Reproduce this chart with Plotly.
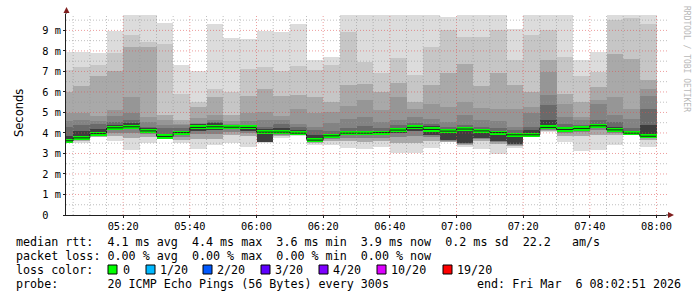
import plotly.graph_objects as go
from datetime import datetime, timedelta

# ---------------- data ----------------
first_interval_start = "2026-03-06 05:00:00"
step_minutes = 5
axis_start = "2026-03-06 05:02:51"
axis_end = "2026-03-06 08:02:51"

median_ms = [3.62, 3.76, 3.97, 4.25, 4.30, 4.10, 3.83, 4.02, 4.27, 4.30, 4.28, 4.27,
             4.04, 4.04, 3.99, 3.65, 3.86, 3.99, 3.99, 4.02, 4.14, 4.27, 4.17, 4.09,
             4.19, 4.10, 4.02, 3.91, 3.91, 4.27, 4.17, 4.22, 4.35, 4.15, 3.99, 3.84]
hi_1 = [7.95, 7.95, 7.90, 8.97, 9.75, 9.75, 9.36, 7.33, 7.00, 9.30, 8.63, 8.56,
        8.97, 8.90, 9.30, 7.54, 7.70, 9.75, 9.75, 9.75, 9.75, 9.75, 9.75, 9.65,
        9.75, 9.75, 9.75, 9.07, 9.75, 9.75, 9.75, 7.54, 7.95, 9.75, 9.75, 9.75]
hi_2 = [7.05, 7.22, 7.30, 7.90, 8.76, 8.43, 8.35, 5.92, 5.51, 6.14, 6.00, 7.14,
        7.22, 7.00, 7.25, 7.06, 7.33, 8.90, 7.46, 6.90, 7.65, 6.82, 8.19, 9.00,
        8.70, 8.68, 9.00, 7.54, 8.76, 9.00, 7.70, 6.78, 6.98, 9.50, 9.62, 9.33]
hi_3 = [6.00, 6.28, 6.78, 7.00, 8.19, 8.19, 4.86, 4.62, 5.27, 5.73, 4.86, 5.80,
        6.14, 5.80, 5.85, 5.76, 5.51, 6.36, 6.40, 6.00, 6.43, 5.51, 6.33, 6.93,
        7.38, 6.28, 6.90, 6.33, 6.00, 7.54, 5.92, 5.50, 6.25, 7.87, 7.62, 6.57]
hi_4 = [4.95, 4.98, 4.82, 5.14, 5.76, 4.80, 4.62, 4.45, 4.75, 4.86, 4.60, 4.95,
        5.03, 4.82, 5.19, 4.95, 5.03, 5.30, 5.60, 5.11, 5.76, 5.19, 5.43, 5.27,
        5.51, 5.20, 5.19, 5.19, 5.27, 6.98, 5.43, 4.80, 5.60, 5.76, 5.19, 6.12]
hi_5 = [4.60, 4.62, 4.60, 4.82, 4.95, 4.54, 4.38, 4.38, 4.50, 4.65, 4.46, 4.60,
        4.62, 4.62, 4.46, 4.30, 4.50, 4.70, 4.78, 4.54, 4.62, 4.78, 4.70, 4.54,
        4.86, 4.62, 4.60, 4.30, 4.95, 5.85, 4.78, 4.62, 5.43, 4.90, 4.70, 5.80]
hi_6 = [4.30, 4.38, 4.43, 4.54, 4.62, 4.30, 4.22, 4.25, 4.45, 4.55, 4.38, 4.38,
        4.30, 4.45, 4.30, 4.14, 4.10, 4.22, 4.35, 4.22, 4.38, 4.50, 4.46, 4.30,
        4.38, 4.30, 4.22, 4.14, 4.30, 5.35, 4.46, 4.38, 4.62, 4.54, 4.22, 5.19]
hi_dark = [3.85, 4.10, 4.20, 4.40, 4.48, 4.22, 3.95, 4.12, 4.42, 4.48, 4.33, 4.33,
           4.20, 4.25, 4.15, 3.90, 3.95, 4.08, 4.12, 4.12, 4.22, 4.38, 4.33, 4.20,
           4.30, 4.20, 4.10, 4.00, 4.15, 4.62, 4.28, 4.30, 4.45, 4.30, 4.10, 4.40]
lo_1 = [3.55, 3.50, 3.78, 3.62, 3.16, 3.49, 3.78, 3.49, 3.20, 3.40, 3.49, 3.30,
        3.49, 3.75, 3.84, 3.40, 3.40, 3.25, 3.20, 3.33, 3.00, 3.00, 3.26, 3.55,
        3.33, 3.20, 2.97, 3.26, 3.78, 4.05, 3.57, 3.13, 3.16, 3.41, 3.89, 3.33]
lo_2 = [3.57, 3.60, 3.82, 3.85, 3.75, 3.80, 3.80, 3.65, 3.70, 3.70, 3.90, 3.85,
        3.55, 3.85, 3.88, 3.50, 3.60, 3.60, 3.55, 3.60, 3.50, 3.50, 3.60, 3.58,
        3.40, 3.60, 3.45, 3.35, 3.82, 4.10, 3.85, 3.85, 3.90, 3.90, 3.92, 3.65]
lo_3 = [3.59, 3.66, 3.86, 4.00, 4.00, 3.95, 3.80, 3.80, 3.95, 3.95, 4.05, 4.00,
        3.57, 3.92, 3.92, 3.55, 3.70, 3.75, 3.75, 3.75, 3.80, 3.85, 3.80, 3.62,
        3.45, 3.70, 3.55, 3.42, 3.86, 4.15, 4.00, 4.05, 4.15, 4.00, 3.94, 3.75]
lo_dark = [3.60, 3.70, 3.90, 4.15, 4.18, 4.02, 3.81, 3.90, 4.10, 4.15, 4.18, 4.10,
           3.58, 3.97, 3.95, 3.56, 3.80, 3.90, 3.90, 3.90, 4.00, 4.10, 3.89, 3.65,
           3.50, 3.75, 3.60, 3.45, 3.88, 4.20, 4.10, 4.15, 4.25, 4.08, 3.96, 3.80]

y_tick_values = [0, 1, 2, 3, 4, 5, 6, 7, 8, 9]
y_tick_labels = ["0\u00a0\u00a0", "1 m", "2 m", "3 m", "4 m", "5 m", "6 m", "7 m", "8 m", "9 m"]

stats_line = "median rtt:  4.1 ms avg  4.4 ms max  3.6 ms min  3.9 ms now  0.2 ms sd  22.2   am/s"
loss_line = "packet loss: 0.00 % avg  0.00 % max  0.00 % min  0.00 % now"
probe_line = "probe:       20 ICMP Echo Pings (56 Bytes) every 300s"
end_line = "end: Fri Mar  6 08:02:51 2026"
loss_labels = ["0", "1/20", "2/20", "3/20", "4/20", "10/20", "19/20"]
loss_colors = ["#00ff00", "#00b8ff", "#0059ff", "#5e00ff", "#7e00ff", "#dd00ff", "#ff0000"]

# ---------------- geometry ----------------
W, H = 697, 297
L, R, T, B = 66, 31, 14, 82
PW, PH = W - L - R, H - T - B
Y_MAX = 9.8
MONO = "DejaVu Sans Mono"


def px(x):
    return (x - L) / PW


def py(y):
    return (H - B - y) / PH


def nb(s):
    return s.replace(" ", "\u00a0")


t0 = datetime.strptime(first_interval_start, "%Y-%m-%d %H:%M:%S")
step = timedelta(minutes=step_minutes)
n = len(median_ms)
starts = [t0 + i * step for i in range(n)]
centers = [s + step / 2 for s in starts]
width_ms = step_minutes * 60 * 1000

fig = go.Figure()

layers = [
    (lo_1, hi_1, "#dcdcdc"),
    (lo_2, hi_2, "#c6c6c6"),
    (lo_2, hi_3, "#a9a9a9"),
    (lo_3, hi_4, "#969696"),
    (lo_3, hi_5, "#838383"),
    (lo_dark, hi_6, "#6a6a6a"),
    (lo_dark, hi_dark, "#3e3e3e"),
]
for lo, hi, col in layers:
    fig.add_trace(go.Bar(
        x=centers, base=lo, y=[h - l for h, l in zip(hi, lo)],
        width=[width_ms] * n, marker=dict(color=col, line=dict(width=0)),
        showlegend=False, hoverinfo="skip"))

# median step line (dark) and green loss band
fig.add_trace(go.Scatter(
    x=starts + [starts[-1] + step], y=median_ms + [median_ms[-1]],
    mode="lines", line=dict(color="#202020", width=1, shape="hv"),
    showlegend=False, hoverinfo="skip"))
band = 0.2
fig.add_trace(go.Bar(
    x=centers, base=[m - band / 2 for m in median_ms], y=[band] * n,
    width=[width_ms] * n, marker=dict(color=loss_colors[0], line=dict(width=0)),
    showlegend=False, hoverinfo="skip"))

# ---------------- grid drawn above the smoke ----------------
shapes = []
minor_col = "rgba(150,150,150,0.6)"
major_col = "rgba(222,79,79,0.55)"
t_axis0 = datetime.strptime(axis_start, "%Y-%m-%d %H:%M:%S")
t_axis1 = datetime.strptime(axis_end, "%Y-%m-%d %H:%M:%S")
g = t0 + step
while g < t_axis1:
    if g > t_axis0:
        major = (g.minute % 20 == 0)
        shapes.append(dict(type="line", xref="x", yref="paper", x0=g, x1=g, y0=0, y1=1,
                           layer="above",
                           line=dict(color=major_col if major else minor_col, width=1,
                                     dash="1px,2px")))
    g += step
k = 1
while k * 0.5 < Y_MAX:
    v = k * 0.5
    major = (k % 2 == 0)
    shapes.append(dict(type="line", xref="paper", yref="y", x0=0, x1=px(668), y0=v, y1=v,
                       layer="above",
                       line=dict(color=major_col if major else minor_col, width=1,
                                 dash="1px,2px")))
    k += 1

# axis arrows
arrow_col = "#801f1f"
shapes.append(dict(type="line", xref="paper", yref="paper", x0=0, x1=0, y0=1, y1=py(11),
                   line=dict(color="#202020", width=1), layer="above"))
shapes.append(dict(type="path", xref="paper", yref="paper",
                   path=f"M {px(63.5)} {py(13)} L {px(69.5)} {py(13)} L {px(66.5)} {py(7)} Z",
                   fillcolor=arrow_col, line=dict(width=0), layer="above"))
shapes.append(dict(type="line", xref="paper", yref="paper", x0=1, x1=px(670), y0=0, y1=0,
                   line=dict(color="#202020", width=1), layer="above"))
shapes.append(dict(type="path", xref="paper", yref="paper",
                   path=f"M {px(668)} {py(212)} L {px(668)} {py(218)} L {px(674)} {py(215)} Z",
                   fillcolor=arrow_col, line=dict(width=0), layer="above"))

# loss colour boxes
box_x = [108, 146, 203, 261, 319, 377, 443]
for bx, col in zip(box_x, loss_colors):
    shapes.append(dict(type="rect", xref="paper", yref="paper",
                       x0=px(bx), x1=px(bx + 9), y0=py(265), y1=py(274),
                       fillcolor=col, line=dict(color="#000000", width=1)))

# ---------------- texts ----------------
ann = []
legend_font = dict(family=MONO, size=11.7, color="#000000")


def text(x, y, s, anchor="left", font=legend_font, angle=0):
    ann.append(dict(xref="paper", yref="paper", x=px(x), y=py(y), text=nb(s),
                    showarrow=False, xanchor=anchor, yanchor="middle", font=font,
                    textangle=angle, borderpad=0))


text(15, 241.5, stats_line)
text(15, 255.5, loss_line)
text(15, 269.5, "loss color:")
label_x = [122, 159, 216, 274, 332, 390, 456]
for lx, lab in zip(label_x, loss_labels):
    text(lx, 269.5, lab)
text(15, 284, probe_line)
text(682, 284, end_line, anchor="right")
text(11, 113, "Seconds", font=dict(family="DejaVu Sans", size=11.5, color="#000000"), angle=-90)
text(686, 59, "RRDTOOL / TOBI OETIKER", anchor="center",
     font=dict(family=MONO, size=8, color="#b8b8b8"), angle=90)

fig.update_layout(
    width=W, height=H, margin=dict(l=L, r=R, t=T, b=B),
    paper_bgcolor="white", plot_bgcolor="white",
    barmode="overlay", bargap=0, showlegend=False,
    shapes=shapes, annotations=ann,
    xaxis=dict(type="date", range=[t_axis0, t_axis1], showgrid=False, zeroline=False,
               tickformat="%H:%M", dtick=20 * 60 * 1000, tick0=first_interval_start,
               showline=True, linecolor="#202020", linewidth=1,
               ticks="outside", ticklen=2, tickcolor="#202020",
               tickfont=dict(family=MONO, size=10.3, color="#000000")),
    yaxis=dict(range=[0, Y_MAX], showgrid=False, zeroline=False,
               tickvals=y_tick_values, ticktext=y_tick_labels,
               showline=True, linecolor="#202020", linewidth=1,
               ticks="outside", ticklen=2, tickcolor="#202020",
               tickfont=dict(family=MONO, size=10.3, color="#000000")),
)

fig.write_html("out.html")
